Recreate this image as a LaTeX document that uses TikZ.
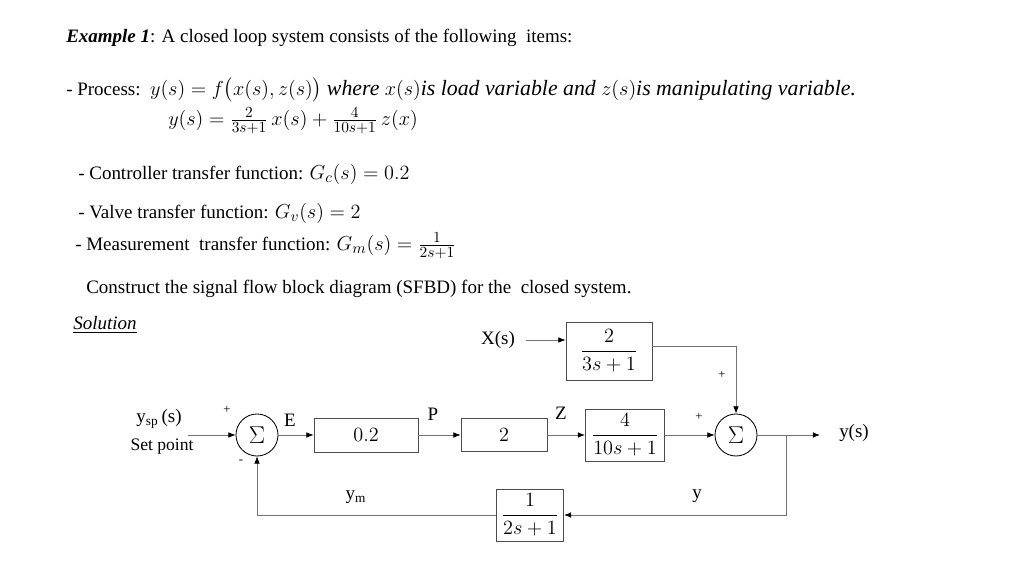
\documentclass[tikz,border=0pt]{standalone}
\usepackage{amsmath}
\usepackage{fontspec}
\setmainfont{Liberation Serif}
\usetikzlibrary{arrows.meta}
\newcommand{\bigmath}[1]{{\fontsize{15.5}{18}\selectfont $#1$}}
\tikzset{
  txtline/.style = {
    anchor=west,
    inner sep=0pt
  },
  sfbdblock/.style = {
    rectangle,
    draw=black!70,
    line width=0.6pt,
    align=center,
    font=\fontsize{14.5}{17}\selectfont
  },
  sumjunc/.style = {
    circle,
    draw,
    line width=0.6pt,
    minimum size=10.5mm,
    inner sep=0pt,
    font=\fontsize{18}{20}\selectfont
  },
  signame/.style = {
    inner sep=2pt
  },
  signsym/.style = {
    inner sep=0pt,
    font=\small
  },
  sigwire/.style = {
    draw=black!55,
    line width=0.5pt
  },
  sigline/.style = {
    sigwire,
    -{Latex[length=1.8mm,width=1.4mm,color=black]}
  }
}

\begin{document}
\begin{tikzpicture}[x=0.025cm, y=-0.025cm, font=\fontsize{13.5}{16}\selectfont]
    \useasboundingbox (0,0) rectangle (1024,576);
    % problem statement
    \node[txtline] (title) at (66,38) {\textbf{\textit{Example 1}}: A closed loop system consists of the following\ \ items:};
    \node[txtline] (procline) at (66,90) {- Process:\ \ \bigmath{y(s) = f\bigl(x(s), z(s)\bigr)} {\fontsize{15.5}{18}\selectfont\textit{where} $x(s)$\textit{is load variable and} $z(s)$\textit{is manipulating variable.}}};
    \node[txtline] (procfun) at (168,121) {\bigmath{y(s) = \tfrac{2}{3s+1}\,x(s) + \tfrac{4}{10s+1}\,z(x)}};
    \node[txtline] (ctrlline) at (78,174) {- Controller transfer function: \bigmath{G_c(s) = 0.2}};
    \node[txtline] (valveline) at (78,213) {- Valve transfer function: \bigmath{G_v(s) = 2}};
    \node[txtline] (measline) at (75,246) {- Measurement\ \ transfer function: \bigmath{G_m(s) = \tfrac{1}{2s+1}}};
    \node[txtline] (task) at (86,289) {Construct the signal flow block diagram (SFBD) for the\ \ closed system.};
    \node[txtline] (solution) at (73,325) {\underline{\textit{Solution}}};
    % blocks
    \node[sfbdblock, minimum width=21.5mm, minimum height=14.5mm] (load) at (609,351) {$\dfrac{2}{3s+1}$};
    \node[sumjunc] (sumin) at (257,435) {$\Sigma$};
    \node[sfbdblock, minimum width=26mm, minimum height=8.5mm] (ctrl) at (366,435) {$0.2$};
    \node[sfbdblock, minimum width=21.5mm, minimum height=8.3mm] (valve) at (504,435) {$2$};
    \node[sfbdblock, minimum width=19.8mm, minimum height=13mm] (proc) at (625,435) {$\dfrac{4}{10s+1}$};
    \node[sumjunc] (sumout) at (736,435) {$\Sigma$};
    \node[sfbdblock, minimum width=16.8mm, minimum height=13mm] (meas) at (530,515) {$\dfrac{1}{2s+1}$};
    % signal names
    \node[signame] (xs) at (498,340) {X(s)};
    \node[signame] (ysp) at (159,419) {y\textsubscript{sp}\,(s)};
    \node[signame] (setpt) at (162,447) {\fontsize{12.5}{15}\selectfont Set point};
    \node[signame] (ys) at (854,433) {y(s)};
    \node[signame] (sigE) at (290,420) {E};
    \node[signame] (sigP) at (433,414) {P};
    \node[signame] (sigZ) at (561,413) {Z};
    \node[signame] (sigy) at (697,496) {y};
    \node[signame] (sigym) at (356,497) {y\textsubscript{m}};
    \node[signsym] (plusin) at (227,410) {+};
    \node[signsym] (minusin) at (241,462) {-};
    \node[signsym] (plusload) at (722,375) {+};
    \node[signsym] (plusproc) at (699,417) {+};
    \coordinate (spin) at (188,435);
    \coordinate (outend) at (820,435);
    \coordinate (branch) at (786,435);
    % connectors
    \draw[sigline, shorten <=2mm] (xs.east) -- (xs.east -| load.west);
    \draw[sigline] ([yshift=1.2mm]load.east) -| (sumout.north);
    \draw[sigline] (spin) -- (sumin.west);
    \draw[sigline] (sumin.east) -- (ctrl.west);
    \draw[sigline] (ctrl.east) -- (valve.west);
    \draw[sigline] (valve.east) -- (proc.west);
    \draw[sigline] (proc.east) -- (sumout.west);
    \draw[sigline] (sumout.east) -- (outend);
    \draw[sigline] (branch) |- (meas.east);
    \draw[sigline] (meas.west) -| (sumin.south);
\end{tikzpicture}
\end{document}
